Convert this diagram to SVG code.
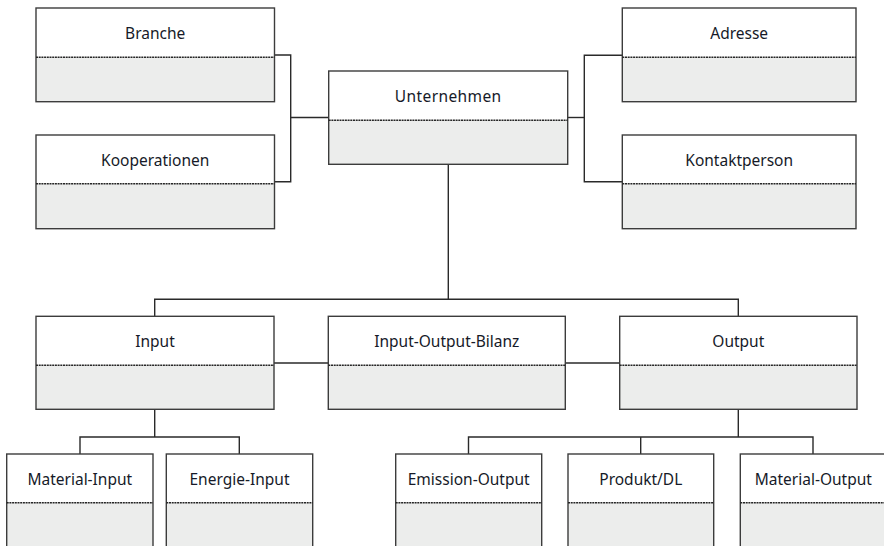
<svg xmlns="http://www.w3.org/2000/svg" width="884" height="546" viewBox="0 0 884 546">
<style>
.hd{fill:#ffffff;stroke:none}
.bd{fill:#ecedec;stroke:none}
.fr{fill:none;stroke:#3c3c3c;stroke-width:1.4}
.dv{stroke:#262626;stroke-width:1.5;stroke-dasharray:2 0.7}
.lb{font-family:"Noto Sans","Open Sans",sans-serif;font-size:15.5px;fill:#161a28;text-anchor:middle}
.cn{fill:none;stroke:#2a2a2a;stroke-width:1.4}
</style>
<rect width="884" height="546" fill="#ffffff"/>
<g id="connectors">
<polyline class="cn" points="274.5,55 290.7,55 290.7,181.7 274.5,181.7"/>
<line class="cn" x1="290.7" y1="117.5" x2="328.7" y2="117.5"/>
<polyline class="cn" points="622.3,55.3 584.3,55.3 584.3,181.7 622.3,181.7"/>
<line class="cn" x1="567.7" y1="117.5" x2="584.3" y2="117.5"/>
<line class="cn" x1="448.3" y1="164.3" x2="448.3" y2="299.3"/>
<polyline class="cn" points="154.7,316.3 154.7,299.3 738.3,299.3 738.3,316.3"/>
<line class="cn" x1="274" y1="363" x2="328.3" y2="363"/>
<line class="cn" x1="565.3" y1="363" x2="619.7" y2="363"/>
<line class="cn" x1="154.7" y1="409.3" x2="154.7" y2="437"/>
<polyline class="cn" points="80,454 80,437 239.3,437 239.3,454"/>
<line class="cn" x1="738.3" y1="409.3" x2="738.3" y2="437"/>
<polyline class="cn" points="468.5,454 468.5,437 813,437 813,454"/>
<line class="cn" x1="640.7" y1="437" x2="640.7" y2="454"/>
</g>
<g id="branche">
<rect class="hd" x="36" y="8" width="238.5" height="49.3"/>
<rect class="bd" x="36" y="57.3" width="238.5" height="44.4"/>
<rect class="fr" x="36" y="8" width="238.5" height="93.7"/>
<line class="dv" x1="36" y1="57.3" x2="274.5" y2="57.3"/>
<text class="lb" x="155.2" y="38.5">Branche</text>
</g>
<g id="kooperationen">
<rect class="hd" x="36" y="135" width="238.5" height="48.7"/>
<rect class="bd" x="36" y="183.7" width="238.5" height="45"/>
<rect class="fr" x="36" y="135" width="238.5" height="93.7"/>
<line class="dv" x1="36" y1="183.7" x2="274.5" y2="183.7"/>
<text class="lb" x="155.2" y="165.5">Kooperationen</text>
</g>
<g id="unternehmen">
<rect class="hd" x="328.7" y="71" width="239" height="49.3"/>
<rect class="bd" x="328.7" y="120.3" width="239" height="44"/>
<rect class="fr" x="328.7" y="71" width="239" height="93.3"/>
<line class="dv" x1="328.7" y1="120.3" x2="567.7" y2="120.3"/>
<text class="lb" x="448.2" y="101.8" letter-spacing="0.4">Unternehmen</text>
</g>
<g id="adresse">
<rect class="hd" x="622.3" y="8" width="233.7" height="49.3"/>
<rect class="bd" x="622.3" y="57.3" width="233.7" height="44.4"/>
<rect class="fr" x="622.3" y="8" width="233.7" height="93.7"/>
<line class="dv" x1="622.3" y1="57.3" x2="856" y2="57.3"/>
<text class="lb" x="739.2" y="38.5">Adresse</text>
</g>
<g id="kontaktperson">
<rect class="hd" x="622.3" y="135" width="233.7" height="48.7"/>
<rect class="bd" x="622.3" y="183.7" width="233.7" height="45"/>
<rect class="fr" x="622.3" y="135" width="233.7" height="93.7"/>
<line class="dv" x1="622.3" y1="183.7" x2="856" y2="183.7"/>
<text class="lb" x="739.2" y="165.5">Kontaktperson</text>
</g>
<g id="input">
<rect class="hd" x="36" y="316.3" width="238" height="49"/>
<rect class="bd" x="36" y="365.3" width="238" height="44"/>
<rect class="fr" x="36" y="316.3" width="238" height="93"/>
<line class="dv" x1="36" y1="365.3" x2="274" y2="365.3"/>
<text class="lb" x="155" y="346.8">Input</text>
</g>
<g id="input-output-bilanz">
<rect class="hd" x="328.3" y="316.3" width="237" height="49"/>
<rect class="bd" x="328.3" y="365.3" width="237" height="44"/>
<rect class="fr" x="328.3" y="316.3" width="237" height="93"/>
<line class="dv" x1="328.3" y1="365.3" x2="565.3" y2="365.3"/>
<text class="lb" x="446.8" y="346.8">Input-Output-Bilanz</text>
</g>
<g id="output">
<rect class="hd" x="619.7" y="316.3" width="237.3" height="49"/>
<rect class="bd" x="619.7" y="365.3" width="237.3" height="44"/>
<rect class="fr" x="619.7" y="316.3" width="237.3" height="93"/>
<line class="dv" x1="619.7" y1="365.3" x2="857" y2="365.3"/>
<text class="lb" x="738.3" y="346.8">Output</text>
</g>
<g id="material-input">
<rect class="hd" x="6.7" y="454" width="146.3" height="48.7"/>
<rect class="bd" x="6.7" y="502.7" width="146.3" height="50"/>
<rect class="fr" x="6.7" y="454" width="146.3" height="98"/>
<line class="dv" x1="6.7" y1="502.7" x2="153" y2="502.7"/>
<text class="lb" x="79.8" y="485.3">Material-Input</text>
</g>
<g id="energie-input">
<rect class="hd" x="166.3" y="454" width="146.4" height="48.7"/>
<rect class="bd" x="166.3" y="502.7" width="146.4" height="50"/>
<rect class="fr" x="166.3" y="454" width="146.4" height="98"/>
<line class="dv" x1="166.3" y1="502.7" x2="312.7" y2="502.7"/>
<text class="lb" x="239.5" y="485.3">Energie-Input</text>
</g>
<g id="emission-output">
<rect class="hd" x="395.7" y="454" width="146" height="48.7"/>
<rect class="bd" x="395.7" y="502.7" width="146" height="50"/>
<rect class="fr" x="395.7" y="454" width="146" height="98"/>
<line class="dv" x1="395.7" y1="502.7" x2="541.7" y2="502.7"/>
<text class="lb" x="468.7" y="485.3">Emission-Output</text>
</g>
<g id="produkt-dl">
<rect class="hd" x="568" y="454" width="145.7" height="48.7"/>
<rect class="bd" x="568" y="502.7" width="145.7" height="50"/>
<rect class="fr" x="568" y="454" width="145.7" height="98"/>
<line class="dv" x1="568" y1="502.7" x2="713.7" y2="502.7"/>
<text class="lb" x="640.8" y="485.3">Produkt/DL</text>
</g>
<g id="material-output">
<rect class="hd" x="740.3" y="454" width="146" height="48.7"/>
<rect class="bd" x="740.3" y="502.7" width="146" height="50"/>
<rect class="fr" x="740.3" y="454" width="146" height="98"/>
<line class="dv" x1="740.3" y1="502.7" x2="886.3" y2="502.7"/>
<text class="lb" x="813.3" y="485.3">Material-Output</text>
</g>
</svg>
